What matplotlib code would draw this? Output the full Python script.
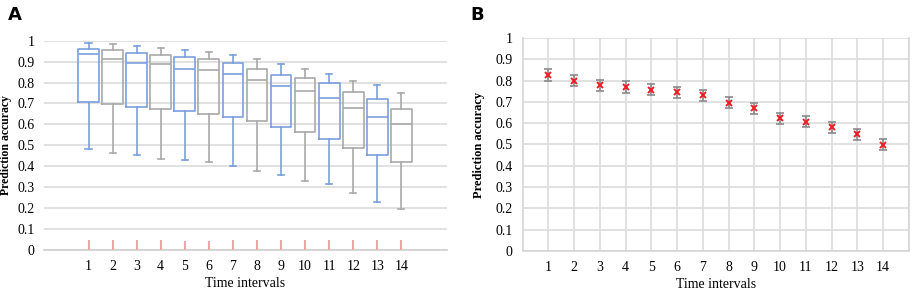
import matplotlib
matplotlib.use('Agg')
import matplotlib.pyplot as plt

# Panel A: box statistics per time interval
intervals = list(range(1, 15))
whisker_hi = [0.988, 0.984, 0.973, 0.965, 0.957, 0.946, 0.933, 0.913, 0.890, 0.866, 0.842, 0.809, 0.787, 0.752]
q3 = [0.962, 0.956, 0.943, 0.933, 0.922, 0.913, 0.892, 0.863, 0.838, 0.822, 0.796, 0.755, 0.720, 0.675]
medians = [0.935, 0.911, 0.895, 0.887, 0.866, 0.861, 0.842, 0.812, 0.784, 0.758, 0.728, 0.680, 0.637, 0.602]
q1 = [0.709, 0.696, 0.685, 0.675, 0.663, 0.651, 0.635, 0.616, 0.586, 0.564, 0.532, 0.489, 0.452, 0.419]
whisker_lo = [0.481, 0.465, 0.452, 0.435, 0.430, 0.420, 0.403, 0.379, 0.360, 0.331, 0.317, 0.271, 0.229, 0.196]
marker_h = [0.05, 0.05, 0.05, 0.05, 0.045, 0.045, 0.048, 0.048, 0.048, 0.048, 0.048, 0.05, 0.05, 0.05]

# Panel B: mean accuracy with error bars
mean_acc = [0.826, 0.800, 0.779, 0.771, 0.756, 0.746, 0.731, 0.696, 0.671, 0.623, 0.607, 0.581, 0.549, 0.498]
err = [0.028, 0.027, 0.026, 0.027, 0.026, 0.026, 0.026, 0.026, 0.026, 0.026, 0.026, 0.026, 0.026, 0.026]

yticks = [0, 0.1, 0.2, 0.3, 0.4, 0.5, 0.6, 0.7, 0.8, 0.9, 1]
ytick_labels = ['0', '0.1', '0.2', '0.3', '0.4', '0.5', '0.6', '0.7', '0.8', '0.9', '1']

blue = '#7b9fdc'
gray = '#a9a9a9'
grid_c = '#dcdcdc'
serif = 'Liberation Serif'

fig = plt.figure(figsize=(9.2, 2.94), dpi=100)

# ---------------- Panel A ----------------
ax1 = fig.add_axes([0.0478, 0.1497, 0.4382, 0.7119])
stats = []
for i in range(len(intervals)):
    stats.append({'whislo': whisker_lo[i], 'q1': q1[i], 'med': medians[i],
                  'q3': q3[i], 'whishi': whisker_hi[i], 'fliers': []})
bp = ax1.bxp(stats, positions=intervals, widths=0.86, capwidths=0.25,
             showfliers=False, patch_artist=False)
for i in range(len(intervals)):
    c = blue if i % 2 == 0 else gray
    bp['boxes'][i].set(color=c, linewidth=1.2)
    bp['medians'][i].set(color=c, linewidth=1.2)
    for k in (2 * i, 2 * i + 1):
        bp['whiskers'][k].set(color=c, linewidth=1.2)
        bp['caps'][k].set(color=c, linewidth=1.2)
ax1.vlines(intervals, 0, marker_h, color='#f4a3a8', linewidth=1.5, zorder=3)
ax1.set_xlim(-0.85, 15.9)
ax1.set_ylim(0, 1)
ax1.set_yticks(yticks)
ax1.set_yticklabels(ytick_labels)
ax1.set_xticks(intervals)
ax1.set_xticklabels([str(v) for v in intervals])
ax1.yaxis.grid(True, color=grid_c, linewidth=1.2)
ax1.set_axisbelow(True)
for s in ('top', 'right', 'left'):
    ax1.spines[s].set_visible(False)
ax1.spines['bottom'].set_color('#d0d0d0')
ax1.spines['bottom'].set_linewidth(1.2)
ax1.tick_params(length=0, labelsize=10, pad=7)
for t in ax1.get_xticklabels() + ax1.get_yticklabels():
    t.set_fontfamily(serif)
ax1.set_xlabel('Time intervals', fontfamily=serif, fontsize=10, labelpad=3)
ax1.set_ylabel('Prediction accuracy', fontfamily=serif, fontsize=8.5, fontweight='bold')
ax1.yaxis.set_label_coords(-0.079, 0.5)
fig.text(0.009, 0.95, 'A', fontsize=13, fontweight='bold', ha='left', va='center')

# ---------------- Panel B ----------------
ax2 = fig.add_axes([0.568, 0.1463, 0.420, 0.7245])
ax2.errorbar(intervals, mean_acc, yerr=err, fmt='none', ecolor='#8a8a8a',
             elinewidth=1.2, capsize=3, capthick=1.2, zorder=3)
ax2.plot(intervals, mean_acc, 'x', color='#ee1c25', markersize=5, markeredgewidth=1.4, zorder=4)
ax2.set_xlim(0, 15)
ax2.set_ylim(0, 1)
ax2.set_yticks(yticks)
ax2.set_yticklabels(ytick_labels)
ax2.set_xticks(intervals + [15])
ax2.set_xticklabels([str(v) for v in intervals] + [''])
ax2.grid(True, color=grid_c, linewidth=1.2)
ax2.set_axisbelow(True)
for s in ('top', 'right', 'left', 'bottom'):
    ax2.spines[s].set_color('#d6d6d6')
    ax2.spines[s].set_linewidth(1.2)
ax2.spines['top'].set_visible(False)
ax2.tick_params(length=0, labelsize=10, pad=7)
for t in ax2.get_xticklabels() + ax2.get_yticklabels():
    t.set_fontfamily(serif)
ax2.set_xlabel('Time intervals', fontfamily=serif, fontsize=10, labelpad=3)
ax2.set_ylabel('Prediction accuracy', fontfamily=serif, fontsize=9, fontweight='bold')
ax2.yaxis.set_label_coords(-0.098, 0.5)
fig.text(0.511, 0.95, 'B', fontsize=13, fontweight='bold', ha='left', va='center')

fig.savefig('out.png', dpi=100)
